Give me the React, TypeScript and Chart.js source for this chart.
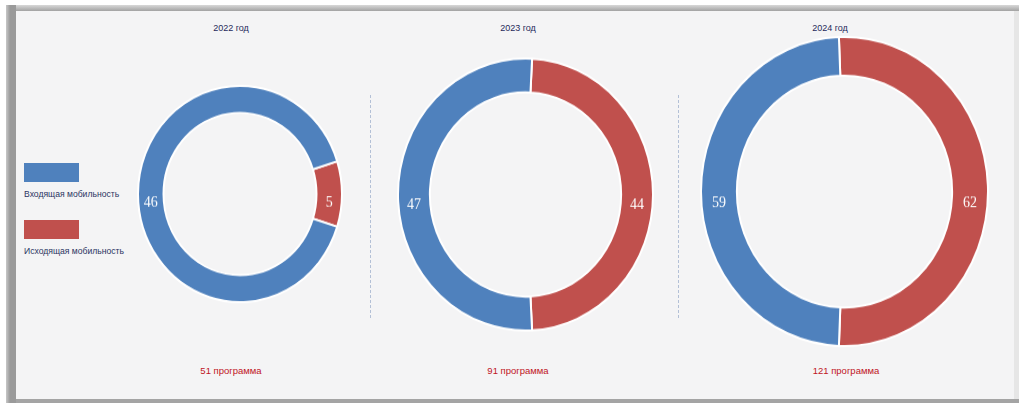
import React, { useEffect, useRef } from "react";
import { Chart, registerables } from "chart.js";

Chart.register(...registerables);

const years: string[] = ["2022 год", "2023 год", "2024 год"];
const incoming: number[] = [46, 47, 59];
const outgoing: number[] = [5, 44, 62];
const totalLabels: string[] = ["51 программа", "91 программа", "121 программа"];
const seriesNames: string[] = ["Исходящая мобильность", "Входящая мобильность"];

const BLUE = "#4f81bd";
const RED = "#c0504d";
const BG = "#f4f4f5";

const valueLabels = {
  id: "valueLabels",
  afterDatasetsDraw(chart: any) {
    const ctx = chart.ctx;
    const meta = chart.getDatasetMeta(0);
    const data = chart.data.datasets[0].data;
    const dy = chart.options.labelDy || 8;
    ctx.save();
    ctx.fillStyle = "#ffffff";
    ctx.font = '14px "Liberation Serif", serif';
    ctx.textAlign = "center";
    ctx.textBaseline = "middle";
    meta.data.forEach((el: any, i: number) => {
      const p = el.tooltipPosition(false);
      ctx.fillText(String(data[i]), p.x, p.y + dy);
    });
    ctx.restore();
  },
};

type DonutProps = { idx: number; cx: number; cy: number; r: number; sy: number; dy: number };

function Donut({ idx, cx, cy, r, sy, dy }: DonutProps) {
  const ref = useRef<HTMLCanvasElement | null>(null);
  const pad = 3;
  const size = Math.round(2 * r + 2 * pad + 2);
  useEffect(() => {
    if (!ref.current) return;
    const total = incoming[idx] + outgoing[idx];
    const redAngle = (outgoing[idx] / total) * 360;
    const chart = new Chart(ref.current, {
      type: "doughnut",
      data: {
        labels: seriesNames,
        datasets: [
          {
            data: [outgoing[idx], incoming[idx]],
            backgroundColor: [RED, BLUE],
            borderColor: "#ffffff",
            borderWidth: 2,
          },
        ],
      },
      options: {
        responsive: false,
        maintainAspectRatio: false,
        animation: false,
        cutout: "75%",
        rotation: 90 - redAngle / 2,
        layout: { padding: pad },
        labelDy: dy,
        plugins: {
          legend: { display: false },
          tooltip: { enabled: false },
        },
        events: [],
      } as any,
      plugins: [valueLabels],
    });
    return () => chart.destroy();
  }, [idx, dy]);
  return (
    <canvas
      ref={ref}
      width={size}
      height={size}
      style={{
        position: "absolute",
        left: cx - size / 2,
        top: cy - size / 2,
        width: size,
        height: size,
        transform: `scaleY(${sy})`,
        transformOrigin: "center center",
      }}
    />
  );
}

const textBase: React.CSSProperties = {
  position: "absolute",
  fontFamily: '"Liberation Sans", Arial, sans-serif',
  whiteSpace: "nowrap",
  lineHeight: "12px",
};

export default function App() {
  const donuts = [
    { cx: 240, cy: 194, r: 102, sy: 1.06, dy: 8, titleX: 231, bottomX: 231 },
    { cx: 525.5, cy: 194, r: 127.5, sy: 1.067, dy: 10, titleX: 518, bottomX: 518 },
    { cx: 844.5, cy: 191.5, r: 143.5, sy: 1.077, dy: 11, titleX: 830, bottomX: 846 },
  ];
  const dash = "repeating-linear-gradient(to bottom, #b3c0d6 0px, #b3c0d6 3px, transparent 3px, transparent 5px)";
  return (
    <div style={{ position: "fixed", left: 0, top: 0, width: 1019, height: 403, background: "#ffffff", overflow: "hidden" }}>
      {/* frame */}
      <div style={{ position: "absolute", left: 6, top: 5, width: 1013, height: 6, background: "linear-gradient(to bottom, #d8d8d8, #a2a2a2)" }} />
      <div style={{ position: "absolute", left: 6, top: 5, width: 10, height: 398, background: "linear-gradient(to right, #c8c8c8, #9a9a9a 40%, #9a9a9a)" }} />
      <div style={{ position: "absolute", left: 16, top: 11, width: 998, height: 388, background: BG }} />
      <div style={{ position: "absolute", left: 1014, top: 11, width: 5, height: 388, background: "#e6e6e6" }} />
      <div style={{ position: "absolute", left: 16, top: 399, width: 1003, height: 4, background: "#a4a4a4" }} />

      {/* separators */}
      <div style={{ position: "absolute", left: 370, top: 95, width: 1, height: 225, background: dash }} />
      <div style={{ position: "absolute", left: 678, top: 95, width: 1, height: 225, background: dash }} />

      {/* legend */}
      <div style={{ position: "absolute", left: 24, top: 163, width: 55, height: 19, background: BLUE }} />
      <div style={{ ...textBase, left: 24, top: 188, fontSize: 8.6, color: "#2b3562" }}>{seriesNames[1]}</div>
      <div style={{ position: "absolute", left: 24, top: 220, width: 55, height: 19, background: RED }} />
      <div style={{ ...textBase, left: 24, top: 245, fontSize: 8.6, color: "#2b3562" }}>{seriesNames[0]}</div>

      {donuts.map((d, i) => (
        <React.Fragment key={i}>
          <div style={{ ...textBase, left: d.titleX - 60, width: 120, textAlign: "center", top: 22, fontSize: 9, color: "#1f2a5a" }}>
            {years[i]}
          </div>
          <Donut idx={i} cx={d.cx} cy={d.cy} r={d.r} sy={d.sy} dy={d.dy} />
          <div style={{ ...textBase, left: d.bottomX - 60, width: 120, textAlign: "center", top: 365, fontSize: 9.5, color: "#c0141e" }}>
            {totalLabels[i]}
          </div>
        </React.Fragment>
      ))}
    </div>
  );
}
